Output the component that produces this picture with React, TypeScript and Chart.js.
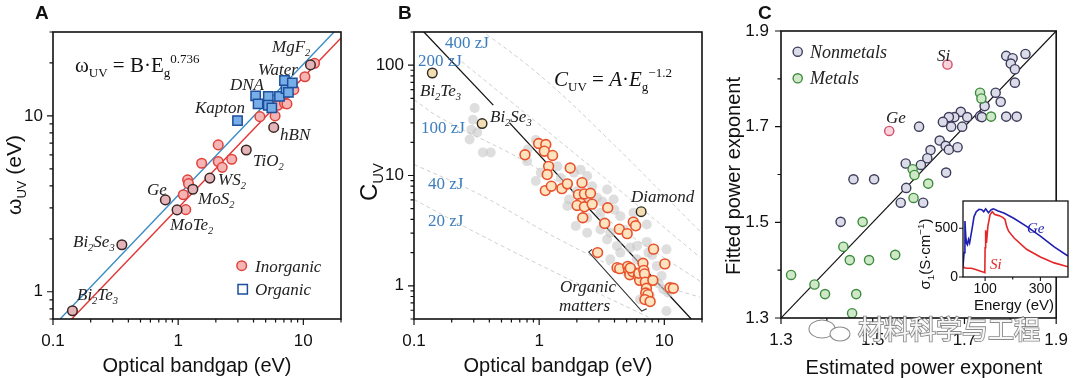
import React, { useEffect, useRef } from 'react';
import { Chart, registerables } from 'chart.js';

Chart.register(...registerables);

type P = [number, number];

// ================= Panel A data =================
const aInorganic: P[] = [
  [1.15, 2.93], [1.1, 3.56], [1.19, 4.33], [1.21, 4.12], [1.54, 5.38], [2.09, 6.84], [2.09, 5.5],
  [2.25, 5.1], [2.68, 5.67], [4.5, 9.9], [5.95, 10.0], [6.25, 11.5], [7.07, 11.8], [7.4, 11.7],
  [7.27, 13.4], [8.4, 14.1], [10.3, 16.7], [12.3, 19.9],
];
// Bi2Te3, Bi2Se3, Ge, MoTe2, MoS2, WS2, TiO2, hBN, MgF2
const aLabeled: P[] = [
  [0.143, 0.78], [0.355, 1.85], [0.79, 3.33], [0.98, 2.92], [1.31, 3.83], [1.79, 4.43],
  [3.5, 6.4], [5.8, 8.6], [11.4, 19.5],
];
const aOrganic: P[] = [
  [2.98, 9.4], [4.16, 13.0], [4.35, 11.7], [5.25, 12.9], [5.25, 11.5], [5.6, 11.1], [6.45, 12.9],
  [7.27, 14.3], [7.07, 15.9], [8.17, 15.4], [7.6, 13.6],
];
const aFitOrganic: P[] = [[0.114, 0.7], [17.6, 30]];
const aFitInorganic: P[] = [[0.141, 0.7], [20, 27.7]];
const aLabelNames = ['MgF_2', 'Water', 'DNA', 'Kapton', 'hBN', 'TiO_2', 'WS_2', 'MoS_2', 'Ge', 'MoTe_2', 'Bi_2Se_3', 'Bi_2Te_3'];
const aLabelPos: P[] = [
  [272, 52], [258, 75], [230, 90], [195, 113], [280, 140], [253, 166], [218, 185], [198, 204],
  [147, 195], [170, 230], [73, 247], [77, 300],
];

// ================= Panel B data =================
const bRed: P[] = [
  [0.77, 15.4], [0.99, 19.5], [1.13, 19.1], [1.1, 16.6], [1.28, 15.2], [1.19, 12.1], [1.16, 10.2],
  [1.12, 7.3], [1.25, 8.0], [1.77, 11.7], [1.52, 7.6], [1.68, 8.4], [2.2, 8.6], [2.06, 6.7],
  [2.3, 6.8], [2.57, 6.9], [2.14, 5.6], [2.01, 5.35], [2.3, 5.2], [2.65, 5.5], [2.23, 4.14],
  [3.53, 5.1], [3.34, 3.68], [4.37, 3.26], [5.05, 2.97], [5.65, 3.78], [5.9, 3.5], [2.93, 2.0],
  [4.19, 1.46], [4.4, 1.43], [5.1, 1.5], [5.2, 1.38], [5.3, 1.26], [5.6, 1.34], [5.35, 1.45],
  [6.2, 1.22], [6.35, 1.12], [6.25, 1.3], [6.75, 1.6], [6.85, 1.38], [6.95, 1.28], [7.05, 1.08],
  [7.2, 0.95], [7.1, 0.86], [7.4, 0.83], [7.0, 0.75], [7.7, 0.72], [8.2, 2.15], [8.1, 1.12],
  [10.1, 1.58], [11.1, 0.96], [11.8, 0.95],
];
const bGray: P[] = [
  [0.305, 41], [0.296, 32], [0.287, 26], [0.278, 21.2], [0.32, 24.5], [0.355, 16.2], [0.41, 16.2],
  [0.8, 13.5], [0.81, 17.2], [0.94, 21], [0.94, 8.9], [1.03, 10.6], [1.4, 12.1], [1.49, 9.5],
  [1.9, 10.6], [2.14, 11.3], [2.42, 9.9], [2.65, 8.0], [1.73, 6.06], [1.68, 5.3], [2.9, 6.3],
  [3.49, 7.47], [3.94, 6.06], [3.09, 4.6], [2.42, 4.14], [1.96, 3.48], [2.42, 3.03], [3.09, 3.24],
  [3.7, 3.03], [4.45, 4.28], [5.67, 4.6], [7.24, 3.6], [4.19, 2.3], [4.45, 2.0], [5.33, 2.22],
  [6.04, 2.3], [7.24, 2.5], [7.46, 2.0], [3.49, 2.63], [6.04, 1.74], [8.7, 1.51], [9.5, 1.23],
  [10.4, 2.14], [9.8, 0.93], [10.7, 0.87], [10.4, 0.59], [3.7, 1.74], [5.02, 1.32], [7.67, 0.81],
  [6.4, 0.75], [2.42, 5.66], [2.0, 7.2], [3.2, 5.8], [4.0, 4.9], [3.3, 3.8], [4.8, 3.2],
  [8.0, 1.9], [9.0, 1.05],
];
// Bi2Te3, Bi2Se3, Diamond
const bLabeled: P[] = [[0.14, 85], [0.35, 29.6], [6.53, 4.7]];
const bFit1: P[] = [[0.117, 206], [0.43, 43.5]];
const bFit2: P[] = [[0.58, 30], [16.4, 0.5]];
const bCurve400: P[] = [[0.278, 248], [1.0, 82], [3.59, 21.2], [19.3, 3.11]];
const bCurve200: P[] = [[0.24, 108], [1.0, 29], [4.31, 7.47], [19.3, 1.81]];
const bCurve100: P[] = [[0.1, 48.7], [0.161, 33.5], [1.0, 11.3], [4.31, 3.38], [19.3, 1.1]];
const bCurve40: P[] = [[0.1, 12.6], [0.334, 6.73], [1.44, 2.64], [6.22, 1.19], [19.3, 0.787]];
const bCurve20: P[] = [[0.1, 6.06], [0.334, 2.92], [1.44, 1.27], [7.46, 0.52]];
const bBracket: P[] = [[2.65, 2.14], [2.49, 2.02], [6.6, 0.59], [7.24, 0.62]];
const bCurveNames = ['400 zJ', '200 zJ', '100 zJ', '40 zJ', '20 zJ'];
const bCurveLabelPos: P[] = [[445, 48], [418, 66], [421, 133], [428, 189], [428, 226]];
const bLabelNames = ['Bi_2Te_3', 'Bi_2Se_3', 'Diamond', 'Organic', 'matters'];
const bLabelPos: P[] = [[420, 96], [490, 122], [631, 202], [560, 292], [559, 311]];

// ================= Panel C data =================
const cNonmetals: P[] = [
  [1.791, 1.848], [1.805, 1.843], [1.833, 1.852], [1.801, 1.832], [1.81, 1.82], [1.81, 1.792],
  [1.768, 1.771], [1.779, 1.752], [1.744, 1.743], [1.734, 1.722], [1.738, 1.72], [1.791, 1.721],
  [1.814, 1.721], [1.692, 1.731], [1.678, 1.72], [1.666, 1.72], [1.653, 1.71], [1.706, 1.72],
  [1.671, 1.7], [1.695, 1.7], [1.601, 1.7], [1.646, 1.671], [1.659, 1.66], [1.666, 1.652],
  [1.685, 1.657], [1.626, 1.651], [1.619, 1.634], [1.605, 1.62], [1.572, 1.623], [1.66, 1.604],
  [1.458, 1.59], [1.503, 1.59], [1.573, 1.572], [1.561, 1.541], [1.61, 1.541], [1.43, 1.501],
];
const cMetals: P[] = [
  [1.734, 1.771], [1.737, 1.759], [1.758, 1.721], [1.587, 1.611], [1.591, 1.599], [1.621, 1.581],
  [1.589, 1.551], [1.478, 1.501], [1.436, 1.449], [1.45, 1.421], [1.492, 1.421], [1.549, 1.432],
  [1.322, 1.39], [1.373, 1.37], [1.396, 1.35], [1.464, 1.35], [1.455, 1.31],
];
const cSiGe: P[] = [[1.663, 1.83], [1.536, 1.691]];
const cDiagonal: P[] = [[1.3, 1.3], [1.9, 1.9]];

// ================= Inset data =================
const insetGe: P[] = [
  [20, 110], [24, 250], [27, 575], [30, 420], [33, 345], [36, 330], [40, 385], [44, 350], [52, 480],
  [60, 620], [68, 670], [78, 695], [88, 690], [95, 670], [102, 700], [112, 660], [122, 690],
  [130, 700], [145, 680], [170, 655], [205, 600], [250, 520], [300, 420], [350, 310], [400, 215],
];
const insetSi: P[] = [
  [20, 120], [24, 95], [35, 90], [50, 90], [66, 78], [84, 60], [96, 50], [99, 45], [100, 300],
  [102, 480], [105, 350], [110, 520], [118, 640], [126, 670], [135, 640], [150, 630], [165, 610],
  [172, 590], [178, 520], [185, 470], [205, 400], [250, 285], [300, 205], [350, 145], [400, 105],
];

// ================= Ticks =================
const logXMajor = [0.1, 1, 10];
const logXMinor = [0.2, 0.3, 0.4, 0.5, 0.6, 0.7, 0.8, 0.9, 2, 3, 4, 5, 6, 7, 8, 9, 20];
const aYMajor = [1, 10];
const aYMinor = [0.7, 0.8, 0.9, 2, 3, 4, 5, 6, 7, 8, 9, 20, 30];
const bYMajor = [1, 10, 100];
const bYMinor = [0.5, 0.6, 0.7, 0.8, 0.9, 2, 3, 4, 5, 6, 7, 8, 9, 20, 30, 40, 50, 60, 70, 80, 90, 200];
const cMajor = [1.3, 1.5, 1.7, 1.9];
const cMinor = [1.4, 1.6, 1.8];
const insetXMajor = [100, 300];
const insetXMinor = [200];
const insetYMajor = [0, 500];
const insetYMinor: number[] = [];

const SERIF = '"Liberation Serif", "DejaVu Serif", serif';
const SANS = '"Liberation Sans", Arial, sans-serif';

type Seg = { t: string; k?: 'sub' | 'sup'; it?: boolean };

function parse(s: string): Seg[] {
  const out: Seg[] = [];
  let buf = '';
  for (let i = 0; i < s.length; i++) {
    const c = s[i];
    if (c === '_' || c === '^') {
      if (buf) { out.push({ t: buf }); buf = ''; }
      let t = '';
      if (s[i + 1] === '{') { const j = s.indexOf('}', i + 2); t = s.slice(i + 2, j); i = j; }
      else { t = s[i + 1]; i++; }
      out.push({ t, k: c === '_' ? 'sub' : 'sup' });
    } else buf += c;
  }
  if (buf) out.push({ t: buf });
  return out;
}

type RO = { size: number; fam: string; italic?: boolean; bold?: boolean; color: string; align?: 'left' | 'center' | 'right'; subScale?: number };

function drawRich(ctx: CanvasRenderingContext2D, x: number, y: number, segs: Seg[], o: RO) {
  const ss = o.subScale ?? 0.62;
  const parts = segs.map((s) => {
    const sz = s.k ? o.size * ss : o.size;
    const it = s.it ?? o.italic;
    const font = `${it ? 'italic ' : ''}${o.bold ? 'bold ' : ''}${sz}px ${o.fam}`;
    ctx.font = font;
    const w = ctx.measureText(s.t).width;
    const dy = s.k === 'sub' ? o.size * 0.22 : s.k === 'sup' ? -o.size * 0.42 : 0;
    return { t: s.t, font, w, dy };
  });
  const total = parts.reduce((a, p) => a + p.w, 0);
  let cx = o.align === 'center' ? x - total / 2 : o.align === 'right' ? x - total : x;
  ctx.fillStyle = o.color;
  ctx.textBaseline = 'alphabetic';
  ctx.textAlign = 'left';
  for (const p of parts) {
    ctx.font = p.font;
    ctx.fillText(p.t, cx, y + p.dy);
    cx += p.w;
  }
}

function drawRot(ctx: CanvasRenderingContext2D, cx: number, cy: number, segs: Seg[], o: RO) {
  ctx.save();
  ctx.translate(cx, cy);
  ctx.rotate(-Math.PI / 2);
  drawRich(ctx, 0, o.size * 0.35, segs, { ...o, align: 'center' });
  ctx.restore();
}

function marker(ctx: CanvasRenderingContext2D, x: number, y: number, r: number, fill: string, stroke: string, bw: number, square = false) {
  ctx.save();
  ctx.beginPath();
  if (square) ctx.rect(x - r, y - r, 2 * r, 2 * r);
  else ctx.arc(x, y, r, 0, Math.PI * 2);
  ctx.fillStyle = fill;
  ctx.fill();
  ctx.lineWidth = bw;
  ctx.strokeStyle = stroke;
  ctx.stroke();
  ctx.restore();
}

const xy = (arr: P[]) => arr.map(([x, y]) => ({ x, y }));

function pointSet(data: P[], r: number, fill: string, stroke: string, bw = 1.4, style = 'circle') {
  return {
    data: xy(data), showLine: false, pointRadius: r, pointHoverRadius: r, pointStyle: style,
    pointBackgroundColor: fill, pointBorderColor: stroke, pointBorderWidth: bw,
    backgroundColor: fill, borderColor: stroke,
  };
}

function lineSet(data: P[], color: string, width: number, dash: number[] = [], tension = 0) {
  return {
    data: xy(data), showLine: true, pointRadius: 0, pointHoverRadius: 0, borderColor: color,
    borderWidth: width, borderDash: dash, tension, fill: false, backgroundColor: color,
  };
}

function axis(type: string, min: number, max: number, majors: number[], minors: number[], fmt: (v: number) => string, pad: number, size: number, fontSize: number, pos: 'left' | 'bottom') {
  return {
    type, min, max, position: pos, bounds: 'data',
    grid: { display: false, drawTicks: false },
    border: { display: false },
    afterBuildTicks: (s: any) => {
      s.ticks = [...majors.map((v) => ({ value: v, major: true })), ...minors.map((v) => ({ value: v, major: false }))]
        .sort((a, b) => a.value - b.value);
    },
    afterFit: (s: any) => { if (pos === 'left') s.width = size; else s.height = size; },
    ticks: {
      autoSkip: false, maxRotation: 0, minRotation: 0, padding: pad, color: '#111',
      font: { family: SANS, size: fontSize },
      callback: (v: number) => (majors.includes(v) ? fmt(v) : ''),
    },
  };
}

function decor(o: { frame: number; tick: [number, number]; tickW: number; bg?: boolean; draw: (ctx: CanvasRenderingContext2D, chart: any) => void }) {
  return {
    id: 'decor',
    beforeDraw(chart: any) {
      if (!o.bg) return;
      const a = chart.chartArea;
      const ctx = chart.ctx;
      ctx.save();
      ctx.fillStyle = '#fff';
      ctx.fillRect(a.left, a.top, a.right - a.left, a.bottom - a.top);
      ctx.restore();
    },
    afterDraw(chart: any) {
      const { ctx, chartArea: a, scales } = chart;
      ctx.save();
      ctx.strokeStyle = '#111';
      ctx.lineWidth = o.tickW;
      const xs = scales.x;
      const ys = scales.y;
      ctx.beginPath();
      xs.ticks.forEach((t: any) => {
        const p = xs.getPixelForValue(t.value);
        const L = t.major ? o.tick[0] : o.tick[1];
        ctx.moveTo(p, a.bottom);
        ctx.lineTo(p, a.bottom + L);
      });
      ys.ticks.forEach((t: any) => {
        const p = ys.getPixelForValue(t.value);
        const L = t.major ? o.tick[0] : o.tick[1];
        ctx.moveTo(a.left, p);
        ctx.lineTo(a.left - L, p);
      });
      ctx.stroke();
      ctx.lineWidth = o.frame;
      ctx.strokeRect(a.left, a.top, a.right - a.left, a.bottom - a.top);
      o.draw(ctx, chart);
      ctx.restore();
    },
  };
}

const common = {
  animation: false, responsive: false, maintainAspectRatio: false, events: [],
  plugins: { legend: { display: false }, tooltip: { enabled: false }, title: { display: false } },
};

const fmtLog = (v: number) => String(v);
const fmtC = (v: number) => v.toFixed(1);

function cfgA(): any {
  return {
    type: 'scatter',
    data: {
      datasets: [
        pointSet(aOrganic, 6.6, '#78aee8', '#1d4f9c', 1.5, 'rect'),
        pointSet(aLabeled, 4.8, '#e4b4b8', '#3b2626', 1.5),
        pointSet(aInorganic, 4.8, '#f5b5b5', '#e2403a', 1.5),
        lineSet(aFitOrganic, '#3a8cc4', 1.4),
        lineSet(aFitInorganic, '#e23434', 1.4),
      ],
    },
    options: {
      ...common,
      layout: { padding: { left: 8, top: 32, right: 739, bottom: 14 } },
      scales: {
        x: axis('logarithmic', 0.1, 20, logXMajor, logXMinor, fmtLog, 12, 45, 17, 'bottom'),
        y: axis('logarithmic', 0.7, 30, aYMajor, aYMinor, fmtLog, 10, 45, 17, 'left'),
      },
    },
    plugins: [decor({
      frame: 1.6, tick: [6, 3.5], tickW: 1.2,
      draw: (ctx) => {
        const lab = { size: 17, fam: SERIF, italic: true, color: '#222' };
        aLabelNames.forEach((n, i) => drawRich(ctx, aLabelPos[i][0], aLabelPos[i][1], parse(n), lab));
        drawRich(ctx, 75, 72, [{ t: 'ω' }, { t: 'UV', k: 'sub' }, { t: ' = B·E' }, { t: 'g', k: 'sub' }, { t: '0.736', k: 'sup' }],
          { size: 21, fam: SERIF, color: '#111' });
        marker(ctx, 241.7, 265.7, 4.8, '#f5b5b5', '#e2403a', 1.5);
        drawRich(ctx, 255, 272, [{ t: 'Inorganic' }], lab);
        marker(ctx, 242.7, 289.3, 4.7, '#ffffff', '#1d4f9c', 1.5, true);
        drawRich(ctx, 255, 295, [{ t: 'Organic' }], lab);
        drawRich(ctx, 197, 372, [{ t: 'Optical bandgap (eV)' }], { size: 20, fam: SANS, color: '#111', align: 'center' });
        drawRot(ctx, 14, 175, [{ t: 'ω' }, { t: 'UV', k: 'sub' }, { t: ' (eV)' }], { size: 21, fam: SANS, color: '#111' });
        drawRich(ctx, 35, 19, [{ t: 'A' }], { size: 19, fam: SANS, bold: true, color: '#111' });
      },
    })],
  };
}

function cfgB(): any {
  return {
    type: 'scatter',
    data: {
      datasets: [
        pointSet(bLabeled, 4.8, '#f3deb4', '#2e2a22', 1.4),
        pointSet(bRed, 4.9, '#fde4bf', '#e8522c', 1.6),
        pointSet(bGray, 5.0, 'rgba(200,200,200,0.6)', 'rgba(200,200,200,0)', 0),
        lineSet(bFit1, '#111', 1.3),
        lineSet(bFit2, '#111', 1.3),
        lineSet(bBracket, '#333', 1.1),
        lineSet(bCurve400, '#cfcfcf', 1, [4, 3], 0.4),
        lineSet(bCurve200, '#cfcfcf', 1, [4, 3], 0.4),
        lineSet(bCurve100, '#cfcfcf', 1, [4, 3], 0.4),
        lineSet(bCurve40, '#cfcfcf', 1, [4, 3], 0.4),
        lineSet(bCurve20, '#cfcfcf', 1, [4, 3], 0.4),
      ],
    },
    options: {
      ...common,
      layout: { padding: { left: 369, top: 32, right: 378, bottom: 14 } },
      scales: {
        x: axis('logarithmic', 0.1, 20, logXMajor, logXMinor, fmtLog, 12, 45, 17, 'bottom'),
        y: axis('logarithmic', 0.5, 200, bYMajor, bYMinor, fmtLog, 10, 45, 17, 'left'),
      },
    },
    plugins: [decor({
      frame: 1.6, tick: [6, 3.5], tickW: 1.2,
      draw: (ctx) => {
        bCurveNames.forEach((n, i) => drawRich(ctx, bCurveLabelPos[i][0], bCurveLabelPos[i][1], [{ t: n }],
          { size: 17, fam: SERIF, color: '#3d7dbd' }));
        const lab = { size: 17, fam: SERIF, italic: true, color: '#222' };
        bLabelNames.forEach((n, i) => drawRich(ctx, bLabelPos[i][0], bLabelPos[i][1], parse(n), lab));
        drawRich(ctx, 554, 86, [{ t: 'C', it: true }, { t: 'UV', k: 'sub' }, { t: ' = ' }, { t: 'A', it: true }, { t: '·' },
          { t: 'E', it: true }, { t: 'g', k: 'sub' }, { t: '−1.2', k: 'sup' }], { size: 21, fam: SERIF, color: '#111' });
        drawRich(ctx, 558, 372, [{ t: 'Optical bandgap (eV)' }], { size: 20, fam: SANS, color: '#111', align: 'center' });
        drawRot(ctx, 369, 182, [{ t: 'C' }, { t: 'UV', k: 'sub' }], { size: 24, fam: SANS, color: '#111' });
        drawRich(ctx, 398, 19, [{ t: 'B' }], { size: 19, fam: SANS, bold: true, color: '#111' });
      },
    })],
  };
}

function cfgC(): any {
  return {
    type: 'scatter',
    data: {
      datasets: [
        pointSet(cSiGe, 4.6, '#fbd3dc', '#d2506a', 1.4),
        pointSet(cMetals, 4.6, '#cfe8c8', '#3d8b3d', 1.4),
        pointSet(cNonmetals, 4.6, '#dcdce8', '#3c3c5c', 1.4),
        lineSet(cDiagonal, '#111', 1.2),
      ],
    },
    options: {
      ...common,
      layout: { padding: { left: 736, top: 31, right: 12, bottom: 15 } },
      scales: {
        x: axis('linear', 1.3, 1.9, cMajor, cMinor, fmtC, 12, 45, 17, 'bottom'),
        y: axis('linear', 1.3, 1.9, cMajor, cMinor, fmtC, 12, 45, 17, 'left'),
      },
    },
    plugins: [decor({
      frame: 1.6, tick: [6, 3.5], tickW: 1.2,
      draw: (ctx) => {
        const lab = { size: 17, fam: SERIF, italic: true, color: '#222' };
        drawRich(ctx, 937, 61, [{ t: 'Si' }], lab);
        drawRich(ctx, 886, 123, [{ t: 'Ge' }], lab);
        marker(ctx, 797.7, 51.7, 4.6, '#dcdce8', '#3c3c5c', 1.4);
        drawRich(ctx, 810, 58, [{ t: 'Nonmetals' }], { ...lab, size: 18 });
        marker(ctx, 797.7, 78.3, 4.6, '#cfe8c8', '#3d8b3d', 1.4);
        drawRich(ctx, 810, 84, [{ t: 'Metals' }], { ...lab, size: 18 });
        drawRich(ctx, 924, 374, [{ t: 'Estimated power exponent' }], { size: 20, fam: SANS, color: '#111', align: 'center' });
        drawRot(ctx, 733, 176, [{ t: 'Fitted power exponent' }], { size: 20, fam: SANS, color: '#111' });
        drawRich(ctx, 758, 19, [{ t: 'C' }], { size: 19, fam: SANS, bold: true, color: '#111' });
      },
    })],
  };
}

function cfgInset(): any {
  return {
    type: 'scatter',
    data: {
      datasets: [
        lineSet(insetSi, '#e42626', 1.6),
        lineSet(insetGe, '#1f1fb0', 1.6),
      ],
    },
    options: {
      ...common,
      layout: { padding: { left: 933, top: 201, right: 12, bottom: 81 } },
      scales: {
        x: axis('linear', 20, 400, insetXMajor, insetXMinor, (v) => String(v), 4, 20, 14, 'bottom'),
        y: axis('linear', 0, 780, insetYMajor, insetYMinor, (v) => String(v), 5, 30, 14, 'left'),
      },
    },
    plugins: [decor({
      frame: 1.3, tick: [4, 2.5], tickW: 1.1, bg: true,
      draw: (ctx) => {
        drawRich(ctx, 1027, 233, [{ t: 'Ge' }], { size: 15, fam: SERIF, italic: true, color: '#2020b0' });
        drawRich(ctx, 990, 269, [{ t: 'Si' }], { size: 15, fam: SERIF, italic: true, color: '#e02828' });
        drawRich(ctx, 1014, 310, [{ t: 'Energy (eV)' }], { size: 15, fam: SANS, color: '#111', align: 'center' });
        drawRot(ctx, 925, 254, parse('σ_1(S·cm^{−1})'), { size: 15, fam: SANS, color: '#111', subScale: 0.65 });
        // watermark
        ctx.save();
        ctx.lineWidth = 1.1;
        ctx.strokeStyle = 'rgba(110,110,110,0.8)';
        ctx.fillStyle = 'rgba(255,255,255,0.92)';
        ctx.beginPath();
        ctx.ellipse(822, 329, 13, 9, 0, 0, Math.PI * 2);
        ctx.fill(); ctx.stroke();
        ctx.beginPath();
        ctx.ellipse(840, 334, 10, 7, 0, 0, Math.PI * 2);
        ctx.fill(); ctx.stroke();
        ctx.font = '26px "Noto Sans CJK SC"';
        ctx.textBaseline = 'alphabetic';
        ctx.lineWidth = 1.8;
        ctx.strokeText('材料科学与工程', 858, 339);
        ctx.fillText('材料科学与工程', 858, 339);
        ctx.restore();
      },
    })],
  };
}

export default function App() {
  const rA = useRef<HTMLCanvasElement>(null);
  const rB = useRef<HTMLCanvasElement>(null);
  const rC = useRef<HTMLCanvasElement>(null);
  const rI = useRef<HTMLCanvasElement>(null);
  useEffect(() => {
    document.body.style.margin = '0';
    const charts = [
      new Chart(rA.current as HTMLCanvasElement, cfgA()),
      new Chart(rB.current as HTMLCanvasElement, cfgB()),
      new Chart(rC.current as HTMLCanvasElement, cfgC()),
      new Chart(rI.current as HTMLCanvasElement, cfgInset()),
    ];
    return () => charts.forEach((c) => c.destroy());
  }, []);
  const cs: React.CSSProperties = { position: 'absolute', left: 0, top: 0, width: 1080, height: 378 };
  return (
    <div style={{ position: 'fixed', left: 0, top: 0, width: 1080, height: 378, background: '#fff', overflow: 'hidden' }}>
      <canvas ref={rA} width={1080} height={378} style={cs} />
      <canvas ref={rB} width={1080} height={378} style={cs} />
      <canvas ref={rC} width={1080} height={378} style={cs} />
      <canvas ref={rI} width={1080} height={378} style={cs} />
    </div>
  );
}
